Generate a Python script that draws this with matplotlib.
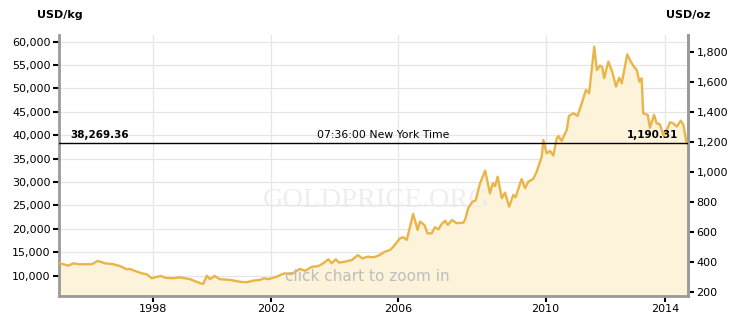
import matplotlib.pyplot as plt
import numpy as np

# --- Data ---
# decimal year and gold price in USD per kilogram
years = [1995.06, 1995.35, 1995.51, 1995.67, 1996.08, 1996.27, 1996.50, 1996.76, 1996.97,
         1997.18, 1997.28, 1997.44, 1997.65, 1997.80, 1997.96, 1998.06, 1998.25, 1998.38,
         1998.63, 1998.84, 1999.16, 1999.47, 1999.57, 1999.68, 1999.78, 1999.92, 2000.09,
         2000.41, 2000.72, 2000.93, 2001.13, 2001.34, 2001.47, 2001.60, 2001.87, 2002.02,
         2002.13, 2002.33, 2002.59, 2002.75, 2002.96, 2003.17, 2003.32, 2003.48, 2003.58,
         2003.71, 2003.81, 2004.00, 2004.21, 2004.40, 2004.54, 2004.71, 2004.88, 2005.04,
         2005.25, 2005.41, 2005.51, 2005.72, 2005.82, 2005.93, 2006.13, 2006.27, 2006.34,
         2006.48, 2006.58, 2006.71, 2006.81, 2006.92, 2007.02, 2007.13, 2007.21, 2007.35,
         2007.49, 2007.70, 2007.75, 2007.85, 2007.98, 2008.08, 2008.22, 2008.38, 2008.53,
         2008.62, 2008.69, 2008.77, 2008.90, 2009.00, 2009.13, 2009.26, 2009.33, 2009.52,
         2009.63, 2009.73, 2009.88, 2009.99, 2010.15, 2010.20, 2010.30, 2010.41, 2010.51,
         2010.62, 2010.67, 2010.77, 2010.93, 2011.00, 2011.14, 2011.27, 2011.40, 2011.53,
         2011.63, 2011.79, 2011.87, 2011.97, 2012.04, 2012.10, 2012.23, 2012.35, 2012.47,
         2012.57, 2012.65, 2012.82, 2012.93, 2013.03, 2013.12, 2013.20, 2013.27, 2013.32,
         2013.46, 2013.53, 2013.66, 2013.74, 2013.84, 2013.95, 2014.03, 2014.16, 2014.26,
         2014.37, 2014.49, 2014.57, 2014.68]
usd_kg = [12700, 12150, 12650, 12450, 12450, 13150, 12650, 12450, 12050,
          11350, 11450, 11000, 10500, 10300, 9450, 9650, 9950, 9550,
          9450, 9650, 9250, 8400, 8250, 10000, 9250, 9950, 9250,
          9100, 8700, 8600, 8950, 9100, 9450, 9250, 9800, 10300,
          10500, 10350, 11450, 11050, 11900, 12050, 12650, 13500, 12650,
          13500, 12800, 13000, 13350, 14400, 13700, 14050, 13950, 14250,
          15150, 15500, 16200, 18000, 18200, 17650, 23200, 19750, 21550,
          20850, 19050, 19050, 20350, 19900, 21050, 21750, 20850, 21900,
          21200, 21350, 21900, 24400, 25800, 26050, 29750, 32450, 27600,
          29750, 29150, 31150, 26550, 27750, 24750, 27250, 26750, 30650,
          28700, 30100, 30650, 32200, 35450, 39000, 36150, 36650, 35650,
          39350, 39850, 38800, 41150, 44150, 44700, 44150, 46850, 49700,
          49000, 58950, 53950, 54900, 54550, 52200, 55750, 53600, 50400,
          52300, 51100, 57300, 55750, 54650, 53950, 51450, 52200, 44700,
          44350, 41600, 44350, 42550, 42350, 40050, 40750, 42800, 42550,
          41850, 43100, 42350, 38269.36]

current_kg = 38269.36
current_oz = 1190.31
time_label = "07:36:00 New York Time"

kg_ticks = [10000, 15000, 20000, 25000, 30000, 35000, 40000, 45000, 50000, 55000, 60000]
oz_ticks = [200, 400, 600, 800, 1000, 1200, 1400, 1600, 1800]
year_labels = ['1998', '2002', '2006', '2010', '2014']
year_tick_pos = [1998.0, 2001.69, 2005.65, 2010.27, 2014.0]

OZ_PER_KG = 32.1507

# --- Colours ---
LINE_C = '#E9B548'
FILL_C = '#FDF3DA'
GRID_C = '#E6E6E6'
SPINE_C = '#9A9A9A'

fig = plt.figure(figsize=(7.46, 3.33), dpi=100)
ax = fig.add_axes([59 / 746, 1 - 296 / 333, (688 - 59) / 746, (296 - 35) / 333])

ax.set_xlim(1995.06, 2014.72)
ax.set_ylim(5660, 61430)

# grid
ax.set_yticks(kg_ticks)
ax.set_yticklabels([f'{v:,}' for v in kg_ticks])
ax.set_xticks(year_tick_pos)
ax.set_xticklabels(year_labels)
ax.grid(True, color=GRID_C, linewidth=0.9, zorder=0)
ax.set_axisbelow(True)

# the price area
ax.fill_between(years, usd_kg, 0, color=FILL_C, linewidth=0, zorder=1)
ax.plot(years, usd_kg, color=LINE_C, linewidth=1.7, zorder=3)

# watermark and hint texts
ax.text(0.505, 0.365, 'GOLDPRICE.ORG', transform=ax.transAxes, ha='center', va='center',
        fontsize=20.5, family='Liberation Serif', color='#EAEAEA', alpha=0.8, zorder=2)
ax.text(0.49, 0.075, 'click chart to zoom in', transform=ax.transAxes, ha='center', va='center',
        fontsize=11, color='#BDBDBD', zorder=4)

# current price line
ax.axhline(current_kg, color='black', linewidth=1, zorder=5)
ax.text(1995.4, current_kg + 700, f'{current_kg:,.2f}', ha='left', va='bottom',
        fontsize=7.5, fontweight='bold', zorder=6)
ax.text(0.516, current_kg + 700, time_label, transform=ax.get_yaxis_transform(),
        ha='center', va='bottom', fontsize=7.8, zorder=6)
ax.text(2014.42, current_kg + 700, f'{current_oz:,.2f}', ha='right', va='bottom',
        fontsize=7.5, fontweight='bold', zorder=6)

# spines and ticks
ax.spines['top'].set_visible(False)
for side in ['left', 'right', 'bottom']:
    ax.spines[side].set_color(SPINE_C)
    ax.spines[side].set_linewidth(2)
ax.tick_params(axis='both', direction='out', length=4, width=1.5, color='black',
               labelsize=8, pad=2)

sec = ax.secondary_yaxis('right', functions=(lambda v: v / OZ_PER_KG, lambda v: v * OZ_PER_KG))
sec.set_yticks(oz_ticks)
sec.set_yticklabels([f'{v:,}' for v in oz_ticks])
sec.tick_params(direction='out', length=4, width=1.5, color='black', labelsize=8, pad=2)
sec.spines['right'].set_color(SPINE_C)
sec.spines['right'].set_linewidth(2)

fig.text(37 / 746, 1 - 15 / 333, 'USD/kg', fontsize=8, fontweight='bold', va='center')
fig.text(710 / 746, 1 - 15 / 333, 'USD/oz', fontsize=8, fontweight='bold', va='center', ha='right')

fig.savefig('out.png', dpi=100)
